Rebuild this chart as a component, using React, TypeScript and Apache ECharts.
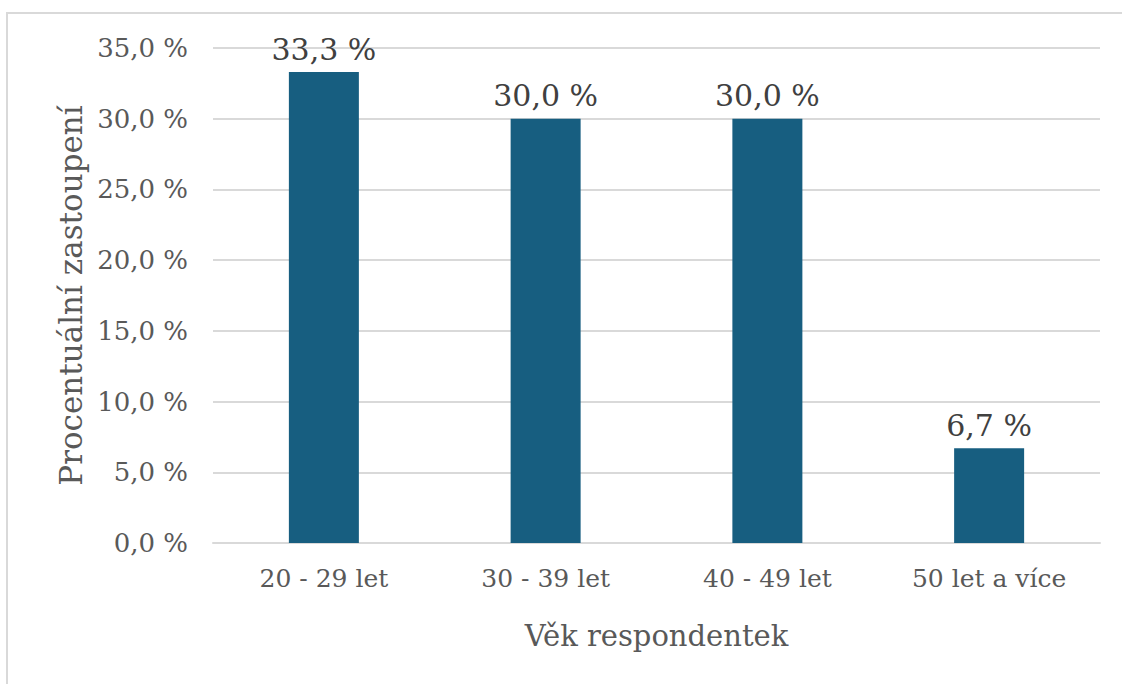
import React, { useEffect, useRef } from "react";
import * as echarts from "echarts";

const categories = ["20 - 29 let", "30 - 39 let", "40 - 49 let", "50 let a více"];
const shares = [33.3, 30.0, 30.0, 6.7];
const yTicks = { min: 0, max: 35, interval: 5 };
const xTitle = "Věk respondentek";
const yTitle = "Procentuální zastoupení";

const FONT = "DejaVu Serif";
const TEXT = "#595959";
const fmt = (v: number) => v.toFixed(1).replace(".", ",") + " %";

export default function App() {
  const ref = useRef<HTMLDivElement>(null);
  useEffect(() => {
    if (!ref.current) return;
    const chart = echarts.init(ref.current, undefined, { renderer: "svg" });
    chart.setOption({
      animation: false,
      backgroundColor: "#ffffff",
      textStyle: { fontFamily: FONT },
      graphic: [
        {
          type: "rect",
          shape: { x: 7, y: 13, width: 1140, height: 700 },
          style: { fill: "none", stroke: "#d9d9d9", lineWidth: 2 },
          silent: true,
        },
      ],
      grid: { left: 213, right: 22, top: 48, bottom: 141, containLabel: false },
      xAxis: {
        type: "category",
        data: categories,
        axisLine: { show: true, lineStyle: { color: "#d9d9d9", width: 2 } },
        axisTick: { show: false },
        axisLabel: { color: TEXT, fontSize: 25, fontFamily: FONT, margin: 23 },
        name: xTitle,
        nameLocation: "middle",
        nameGap: 78,
        nameTextStyle: { color: TEXT, fontSize: 29, fontFamily: FONT },
      },
      yAxis: {
        type: "value",
        min: yTicks.min,
        max: yTicks.max,
        interval: yTicks.interval,
        axisLine: { show: false },
        axisTick: { show: false },
        splitLine: { lineStyle: { color: "#d9d9d9", width: 2 } },
        axisLabel: {
          color: TEXT,
          fontSize: 26,
          fontFamily: FONT,
          margin: 25,
          formatter: (v: number) => fmt(v),
        },
        name: yTitle,
        nameLocation: "middle",
        nameGap: 125,
        nameRotate: 90,
        nameTextStyle: { color: TEXT, fontSize: 31, fontFamily: FONT },
      },
      series: [
        {
          type: "bar",
          data: shares,
          barWidth: 70,
          itemStyle: { color: "#175e80" },
          label: {
            show: true,
            position: "top",
            distance: 8,
            color: "#404040",
            fontSize: 30,
            fontFamily: FONT,
            formatter: (p: any) => fmt(p.value),
          },
        },
      ],
    });
    return () => chart.dispose();
  }, []);
  return (
    <div
      ref={ref}
      style={{ position: "absolute", left: 0, top: 0, width: 1122, height: 684 }}
    />
  );
}
